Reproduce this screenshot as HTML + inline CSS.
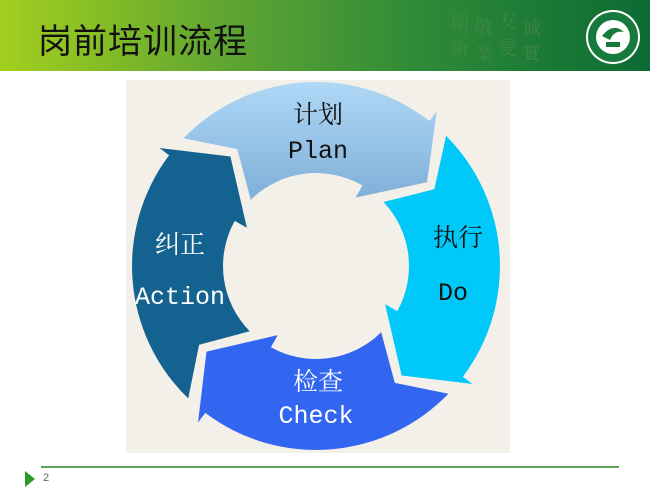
<!DOCTYPE html>
<html><head><meta charset="utf-8"><style>
body{margin:0;width:650px;height:488px;background:#fff;position:relative;overflow:hidden;font-family:"Liberation Sans","Noto Sans CJK SC",sans-serif}
#hdr{position:absolute;left:0;top:0;width:650px;height:71px;background:linear-gradient(90deg,#a3cf1e 0%,#5fa532 35%,#2e8a38 65%,#0c6b34 100%)}
#title{position:absolute;left:38px;top:14px;font-size:34px;color:#111;font-family:"Noto Sans CJK SC",sans-serif;letter-spacing:1px}
#img{position:absolute;left:126px;top:80px;width:384px;height:373px;background:#f3f0ea}
.t{position:absolute;font-family:"Liberation Mono","Noto Serif CJK SC",monospace;font-size:25px;text-align:center;width:160px}
</style></head><body>
<div id="hdr"></div>
<div id="title">岗前培训流程</div>
<div style="position:absolute;left:450px;top:8px;font-family:'Noto Serif CJK SC',serif;font-size:19px;color:#4a8a4a;opacity:.75;line-height:26px;width:100px">
<span style="position:absolute;left:0;top:0">創<br>新</span><span style="position:absolute;left:24px;top:6px">敬<br>業</span><span style="position:absolute;left:48px;top:0">友<br>愛</span><span style="position:absolute;left:72px;top:6px">诚<br>實</span></div>
<svg style="position:absolute;left:584px;top:8px" width="58" height="58"><circle cx="29" cy="29" r="27" fill="#fff"/><circle cx="29" cy="29" r="25" fill="#157a3c"/><circle cx="29" cy="29" r="17" fill="#fff"/><path d="M18 28 Q29 14 40 24 Q30 22 26 32 Z" fill="#157a3c"/><rect x="22" y="34" width="14" height="5" fill="#157a3c"/></svg>
<div id="img"></div>
<svg id="s" style="position:absolute;left:0;top:0" width="650" height="488"></svg>
<div class="t" style="left:238px;top:95px;color:#111">计划</div>
<div class="t" style="left:238px;top:137px;color:#111">Plan</div>
<div class="t" style="left:378px;top:218px;color:#111">执行</div>
<div class="t" style="left:373px;top:279px;color:#111">Do</div>
<div class="t" style="left:238px;top:362px;color:#fff">检查</div>
<div class="t" style="left:236px;top:402px;color:#fff">Check</div>
<div class="t" style="left:100px;top:225px;color:#fff">纠正</div>
<div class="t" style="left:100px;top:283px;color:#fff">Action</div>
<div style="position:absolute;left:41px;top:466px;width:578px;height:2px;background:#5aa55a"></div>
<div style="position:absolute;left:25px;top:471px;width:0;height:0;border-left:10px solid #2a9a2a;border-top:8px solid transparent;border-bottom:8px solid transparent"></div>
<div style="position:absolute;left:43px;top:472px;font-size:11px;color:#666">2</div>
<script>
var cx=316,cy=266,R=184,r=93,s=document.getElementById('s');
function P(a,rad){a=a*Math.PI/180;return (cx+rad*Math.cos(a)).toFixed(1)+','+(cy+rad*Math.sin(a)).toFixed(1)}
function arrow(t,T,col){
var d='M'+P(t,R)+' A'+R+','+R+' 0 0 1 '+P(T-7,R)+' L'+P(T-7,196)+' L'+P(T+8,139)+' L'+P(T-15,79)+' L'+P(T-15,r)+' A'+r+','+r+' 0 0 0 '+P(t+1.5,r)+' L'+P(t+12,141)+' Z';
return '<path d="'+d+'" fill="'+col+'"/>';}
s.innerHTML='<defs><linearGradient id="g" x1="0" y1="0" x2="0" y2="1"><stop offset="0" stop-color="#b0d8f6"/><stop offset="1" stop-color="#7eafd9"/></linearGradient></defs>'+
arrow(-136,-45,'url(#g)')+arrow(-45,44,'#00c8f8')+arrow(44,134,'#3366f0')+arrow(134,224,'#14628f');
</script>
</body></html>
